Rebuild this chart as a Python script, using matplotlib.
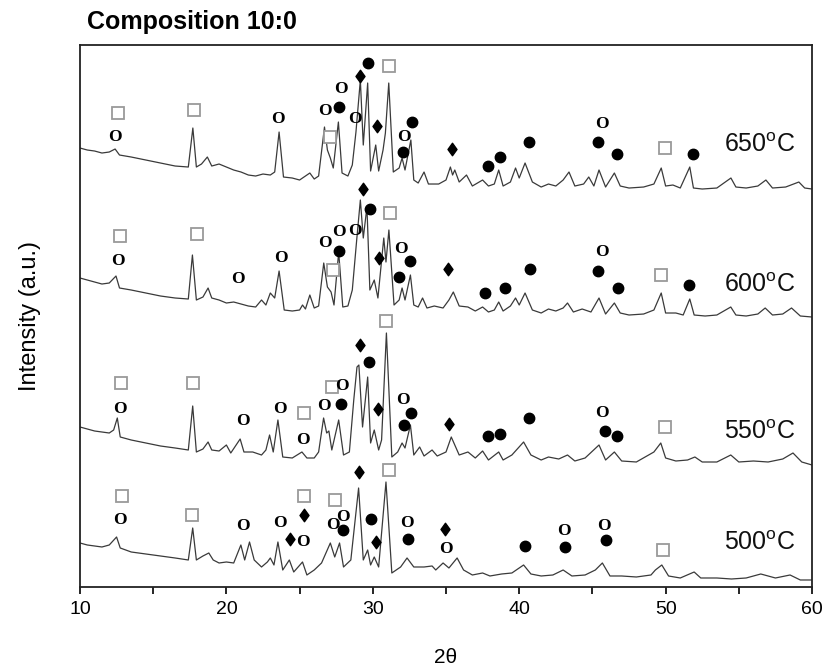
import matplotlib
matplotlib.use('Agg')
import matplotlib.pyplot as plt
from matplotlib.path import Path

plt.rcParams['font.family'] = ['Liberation Sans', 'DejaVu Sans']

# traced XRD patterns (2theta, stacked intensity in a.u.)
tt650 = [10.0, 10.5, 11.0, 11.5, 12.0, 12.4, 12.7, 13.5, 14.5, 15.5, 16.5, 17.4, 17.71, 17.95, 18.3, 18.7, 19.0, 19.5,
         20.0, 20.5, 21.0, 21.5, 22.0, 22.5, 23.0, 23.3, 23.6, 23.9, 24.5, 25.0, 25.4, 25.7, 26.0, 26.3, 26.7, 26.9,
         27.1, 27.3, 27.65, 27.9, 28.3, 28.6, 28.85, 29.15, 29.35, 29.65, 29.85, 30.2, 30.4, 30.7, 30.86, 31.09, 31.4,
         31.8, 32.0, 32.2, 32.6, 32.8, 33.1, 33.5, 33.8, 34.5, 35.0, 35.3, 35.45, 35.6, 35.9, 36.4, 36.8, 37.5, 37.9,
         38.3, 38.6, 38.9, 39.4, 39.75, 40.0, 40.4, 40.9, 41.5, 42.0, 42.5, 43.0, 43.4, 43.8, 44.4, 44.75, 45.1, 45.45,
         45.9, 46.5, 46.9, 47.5, 48.5, 49.2, 49.7, 50.0, 50.5, 51.0, 51.65, 51.9, 52.5, 53.5, 54.46, 54.8, 55.5, 56.3,
         56.85, 57.3, 58.2, 59.1, 59.5, 60.0]
int650 = [439, 437, 436, 434, 435, 438, 432, 430, 427, 424, 421, 420, 459, 420, 423, 430, 421, 423,
          420, 417, 415, 412, 411, 413, 412, 415, 455, 410, 409, 407, 411, 414, 408, 411, 460, 437,
          429, 419, 465, 414, 411, 422, 455, 507, 442, 504, 416, 442, 416, 437, 454, 504, 415,
          419, 429, 417, 447, 407, 404, 415, 403, 403, 407, 420, 412, 417, 405, 412, 401, 407, 401,
          403, 417, 401, 405, 419, 409, 424, 405, 400, 403, 401, 407, 415, 401, 403, 410, 401, 417,
          400, 414, 401, 399, 400, 403, 419, 401, 402, 399, 420, 399, 398, 399, 409, 400, 399, 401,
          407, 399, 400, 405, 399, 398]

tt600 = [10.0, 10.5, 11.0, 11.5, 12.0, 12.46, 12.7, 13.5, 14.5, 15.5, 16.5, 17.4, 17.68, 17.95, 18.4, 18.75, 19.0, 19.5,
         20.0, 20.5, 21.0, 21.5, 22.0, 22.4, 22.7, 23.0, 23.3, 23.6, 23.95, 24.5, 25.0, 25.2, 25.4, 25.7, 26.0, 26.3,
         26.65, 26.9, 27.15, 27.35, 27.67, 27.95, 28.3, 28.6, 28.9, 29.15, 29.35, 29.6, 29.8, 30.1, 30.35, 30.75, 30.9,
         31.1, 31.45, 31.8, 32.0, 32.2, 32.57, 32.8, 33.1, 33.4, 33.7, 34.2, 34.8, 35.2, 35.5, 35.9, 36.5, 37.0, 37.5,
         37.9, 38.3, 38.6, 38.9, 39.4, 39.75, 40.0, 40.4, 40.9, 41.5, 42.0, 42.5, 43.0, 43.3, 43.7, 44.3, 44.9, 45.45,
         45.9, 46.5, 46.9, 47.5, 48.5, 49.2, 49.7, 50.0, 50.7, 51.2, 51.65, 51.95, 52.7, 53.5, 54.45, 54.8, 55.5, 56.3,
         56.8, 57.3, 58.0, 58.6, 59.2, 60.0]
int600 = [309, 307, 305, 303, 304, 311, 299, 297, 294, 291, 289, 288, 332, 287, 290, 299, 289, 287,
          284, 285, 283, 281, 280, 287, 282, 294, 289, 316, 277, 276, 277, 282, 278, 292, 279, 281,
          324, 300, 295, 282, 335, 280, 281, 297, 347, 387, 349, 380, 297, 307, 289, 349, 325,
          357, 282, 287, 299, 287, 312, 282, 280, 289, 279, 281, 279, 287, 295, 281, 280, 276, 280,
          275, 277, 285, 276, 281, 289, 282, 294, 277, 274, 278, 276, 279, 284, 275, 278, 275, 289,
          273, 284, 274, 272, 273, 277, 294, 274, 274, 272, 288, 272, 271, 272, 280, 272, 271, 273,
          279, 272, 273, 279, 271, 270]

tt550 = [10.0, 10.5, 11.0, 11.5, 12.0, 12.3, 12.55, 12.75, 13.5, 14.5, 15.5, 16.5, 17.4, 17.7, 17.95, 18.4, 18.75, 19.0,
         19.5, 20.0, 20.3, 20.94, 21.2, 21.8, 22.4, 22.7, 22.95, 23.2, 23.52, 23.85, 24.5, 25.16, 25.5, 26.0, 26.3,
         26.64, 26.85, 27.0, 27.2, 27.67, 28.0, 28.4, 28.7, 28.92, 29.05, 29.3, 29.65, 29.85, 30.1, 30.4, 30.6, 30.93,
         31.3, 31.7, 32.0, 32.2, 32.57, 32.8, 33.2, 33.5, 34.05, 34.4, 35.0, 35.36, 35.6, 35.9, 36.5, 37.0, 37.5, 37.9,
         38.6, 38.9, 39.5, 40.3, 40.8, 41.5, 42.0, 42.7, 43.3, 43.8, 44.5, 45.45, 45.9, 46.5, 47.0, 48.0, 49.2, 49.67,
         50.0, 50.7, 51.5, 52.0, 52.5, 53.5, 54.45, 55.0, 56.0, 57.0, 58.0, 58.7, 59.3, 60.0]
int550 = [160, 158, 156, 155, 154, 157, 169, 150, 147, 144, 141, 139, 137, 181, 135, 138, 145, 137,
          136, 142, 134, 148, 135, 135, 132, 137, 152, 135, 167, 130, 129, 135, 129, 129, 135,
          169, 154, 156, 137, 167, 132, 135, 187, 220, 222, 160, 210, 144, 157, 137, 147, 254,
          130, 135, 144, 139, 162, 132, 140, 131, 137, 131, 135, 150, 142, 132, 135, 129, 136, 127,
          135, 127, 132, 145, 132, 127, 130, 128, 132, 126, 129, 142, 127, 135, 126, 125, 135, 144,
          129, 126, 127, 130, 125, 125, 132, 125, 126, 125, 128, 134, 125, 122]

tt500 = [10.0, 10.5, 11.0, 11.5, 12.0, 12.5, 12.75, 13.5, 14.5, 15.5, 16.5, 17.4, 17.7, 17.95, 18.4, 18.8, 19.1, 19.5,
         20.0, 20.5, 20.99, 21.25, 21.58, 21.9, 22.4, 22.8, 23.0, 23.25, 23.52, 23.85, 24.3, 24.6, 25.2, 25.5, 26.0,
         26.5, 27.1, 27.4, 27.73, 28.0, 28.5, 29.03, 29.35, 29.65, 29.85, 30.1, 30.4, 30.9, 31.3, 31.9, 32.34, 32.8,
         33.5, 34.05, 34.3, 34.8, 35.2, 35.76, 36.2, 36.8, 37.5, 38.0, 38.8, 39.5, 40.3, 40.8, 41.5, 42.3, 43.0, 43.6,
         44.5, 45.2, 45.68, 46.2, 47.0, 48.0, 49.0, 49.3, 49.74, 50.2, 51.0, 51.95, 52.4, 53.5, 54.5, 55.5, 56.5, 57.5,
         58.5, 59.2, 60.0]
int500 = [44, 42, 41, 40, 42, 50, 39, 35, 33, 31, 29, 27, 59, 27, 31, 34, 27, 24,
          25, 24, 42, 27, 45, 27, 20, 25, 29, 22, 45, 17, 27, 15, 25, 12, 17,
          24, 44, 30, 44, 20, 27, 99, 27, 37, 22, 30, 20, 105, 14, 20, 29, 20,
          20, 21, 17, 24, 19, 29, 17, 12, 14, 11, 13, 14, 22, 13, 11, 12, 17, 11,
          12, 17, 24, 11, 11, 10, 12, 17, 22, 11, 9, 15, 9, 9, 8, 9, 13, 9,
          12, 7, 7]

temps = ['650', '600', '550', '500']
label_y = [442, 302, 155, 44]

# phase markers per pattern: lists of (2theta, height)
open_pos = {
    '650': [(12.4, 452), (23.5, 470), (26.76, 478), (27.85, 500), (28.75, 470), (32.1, 452), (45.68, 465)],
    '600': [(12.6, 328), (20.76, 310), (23.7, 331), (26.76, 346), (27.67, 357), (28.8, 358), (31.93, 340), (45.68, 337)],
    '550': [(12.74, 180), (21.1, 168), (23.63, 180), (25.23, 149), (26.64, 183), (27.9, 203), (32.07, 189), (45.68, 176)],
    '500': [(12.74, 69), (21.1, 63), (23.68, 66), (25.23, 47), (27.26, 64), (27.94, 72), (32.3, 66), (35.0, 40),
            (43.05, 58), (45.8, 63)],
}
filled_pos = {
    '650': [(27.7, 480), (29.7, 524), (32.05, 435), (32.7, 465), (37.86, 421), (38.68, 430), (40.66, 445), (45.4, 445),
            (46.66, 433), (51.88, 433)],
    '600': [(27.67, 336), (29.79, 378), (31.77, 310), (32.57, 326), (37.63, 294), (39.0, 299), (40.73, 318), (45.4, 316),
            (46.75, 299), (51.6, 302)],
    '550': [(27.82, 183), (29.72, 225), (32.1, 162), (32.6, 174), (37.86, 151), (38.68, 153), (40.66, 169), (45.86, 156),
            (46.66, 151)],
    '500': [(27.94, 57), (29.9, 68), (32.39, 48), (40.37, 41), (43.12, 40), (45.96, 47)],
}
diamond_pos = {
    '650': [(29.15, 511), (30.3, 461), (35.4, 438)],
    '600': [(29.3, 398), (30.4, 329), (35.15, 318)],
    '550': [(29.1, 242), (30.36, 178), (35.2, 163)],
    '500': [(24.32, 48), (25.28, 72), (29.08, 115), (30.25, 45), (34.92, 58)],
}
square_pos = {
    '650': [(12.6, 474), (17.8, 477), (27.1, 450), (31.1, 521), (49.95, 439)],
    '600': [(12.74, 351), (18.0, 353), (27.26, 317), (31.2, 374), (49.7, 312)],
    '550': [(12.78, 204), (17.75, 204), (25.28, 174), (27.2, 200), (30.93, 266), (49.95, 160)],
    '500': [(12.85, 91), (17.68, 72), (25.28, 91), (27.44, 87), (31.14, 117), (49.85, 37)],
}

patterns = {'650': (tt650, int650), '600': (tt600, int600), '550': (tt550, int550), '500': (tt500, int500)}

diamond = Path([(0, 1), (0.72, 0), (0, -1), (-0.72, 0), (0, 1)], closed=True)

fig = plt.figure(figsize=(8.27, 6.71), dpi=100)
ax = fig.add_axes([0.0967, 0.1252, 0.8852, 0.8077])

for t, ly in zip(temps, label_y):
    xs, ys = patterns[t]
    ax.plot(xs, ys, '-', color='#3a3a3a', lw=0.9)
    for x, y in open_pos[t]:
        ax.text(x, y, 'O', family='Liberation Serif', fontsize=12.5, fontweight='bold',
                ha='center', va='center_baseline', color='black')
    fx = [p[0] for p in filled_pos[t]]
    fy = [p[1] for p in filled_pos[t]]
    ax.plot(fx, fy, 'o', ms=7.5, color='black', ls='none')
    dx = [p[0] for p in diamond_pos[t]]
    dy = [p[1] for p in diamond_pos[t]]
    ax.plot(dx, dy, marker=diamond, ms=9, color='black', ls='none')
    sx = [p[0] for p in square_pos[t]]
    sy = [p[1] for p in square_pos[t]]
    ax.plot(sx, sy, 's', ms=9, mfc='white', mec='#9a9a9a', mew=1.3, ls='none')
    ax.text(56.4, ly, t + '$^\\mathregular{o}$C', fontsize=18, ha='center', va='center', color='#111111')

ax.set_xlim(10, 60)
ax.set_ylim(0, 542)
ax.set_xticks(range(10, 61, 10))
ax.set_xticks(range(15, 60, 10), minor=True)
ax.set_yticks([])
ax.tick_params(axis='x', which='both', direction='out', length=5, width=1.2, labelsize=14, pad=5)
for s in ax.spines.values():
    s.set_linewidth(1.3)
    s.set_color('#222222')
ax.set_xlabel('2\u03b8', fontsize=15, labelpad=22)
ax.set_ylabel('Intensity (a.u.)', fontsize=17, labelpad=28)
fig.text(0.105, 0.967, 'Composition 10:0', fontsize=18, fontweight='bold', ha='left', va='center')

fig.savefig('out.png', dpi=100)
